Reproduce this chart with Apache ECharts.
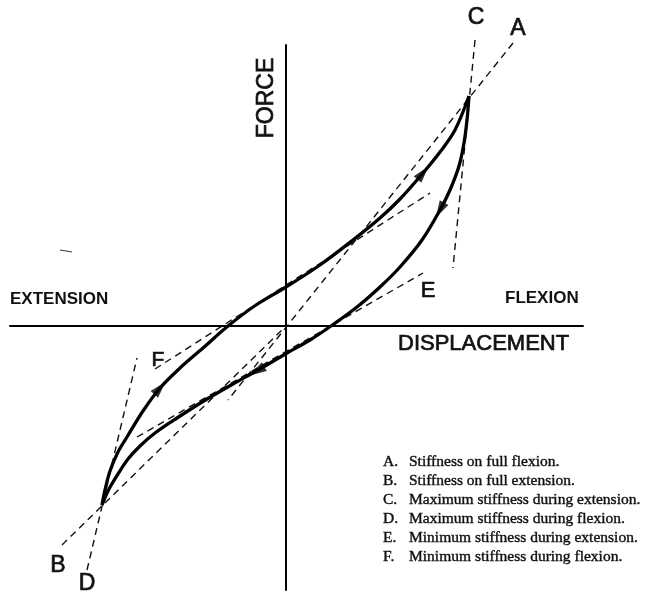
<!DOCTYPE html>
<html>
<head>
<meta charset="utf-8">
<script src="https://cdn.jsdelivr.net/npm/echarts@6/dist/echarts.min.js"></script>
<style>
html,body{margin:0;padding:0;background:#fff;}
#chart{width:647px;height:594px;}
</style>
</head>
<body>
<div id="chart"></div>
<script>
// Displacement (x) / force (y), arbitrary units
const flexionPath = [
  [-18.4,-17.9],[-18.1,-16.4],[-17.6,-14.5],[-16.8,-12.6],[-15.9,-11.1],[-14.3,-8.5],
  [-12.6,-6.2],[-10.6,-4.2],[-8.3,-2.2],[-5.8,0],[-3.0,2.1],[0,3.9],[3.4,6.1],
  [6.7,8.6],[9.4,10.8],[11.4,12.7],[13.7,15.3],[15.4,17.4],[16.9,19.6],[18.3,23.0]
];
const extensionPath = [
  [18.3,23.0],[18.1,20.6],[17.8,18.3],[17.3,16.0],[16.4,13.6],[15.4,11.6],[13.6,8.6],
  [11.4,5.9],[9.4,3.9],[7.1,1.9],[4.5,0],[2.4,-1.4],[0.1,-2.7],[-2.6,-4.3],[-5.3,-5.8],
  [-7.9,-7.3],[-10.9,-9.2],[-13.1,-10.7],[-14.6,-12.0],[-15.8,-13.3],[-16.8,-14.8],
  [-17.7,-16.3],[-18.4,-17.9]
];
const tangentA = [[22.7,28.3],[-5.8,-7.4]];
const tangentB = [[-22.4,-21.9],[0,0]];
const tangentC = [[18.9,28.6],[16.7,5.8]];
const tangentD = [[-19.9,-24.4],[-14.9,-3.2]];
const tangentE = [[-14.9,-11.1],[13.7,5.3]];
const tangentF = [[-13.1,-4.3],[14.4,13.3]];
// arrow heads: [x, y, direction in degrees]
const flexionArrows = [[-12.6,-6.2,48],[13.7,15.3,50]];
const extensionArrows = [[15.4,11.6,241],[-2.9,-4.5,211]];
const legendLetters = ['A.','B.','C.','D.','E.','F.'];
const legendTexts = [
  'Stiffness on full flexion.',
  'Stiffness on full extension.',
  'Maximum stiffness during extension.',
  'Maximum stiffness during flexion.',
  'Minimum stiffness during extension.',
  'Minimum stiffness during flexion.'
];

const chart = echarts.init(document.getElementById('chart'), null, {renderer:'canvas'});
const sans = 'Liberation Sans, Arial, sans-serif';
const serif = 'Liberation Serif, Times New Roman, serif';

function dashed(name, pts){
  return {type:'line', name:name, data:pts, showSymbol:false, clip:false, silent:true,
    lineStyle:{color:'#111', width:1.4, type:[7,5]}, z:2};
}
function curve(pts){
  return {type:'line', data:pts, showSymbol:false, clip:false, smooth:0.35, silent:true,
    lineStyle:{color:'#000', width:3.3}, z:3};
}
function arrows(list){
  return {type:'scatter', clip:false, silent:true, z:4,
    data:list.map(a=>({value:[a[0],a[1]], symbolRotate:a[2]-90})),
    symbol:'triangle', symbolSize:[10,17], itemStyle:{color:'#000'}};
}

const graphics = [];
const heavy = {stroke:'#111', lineWidth:0.7};
function txt(t, x, y, size){
  graphics.push({type:'text', x:x, y:y, style:Object.assign({text:t, fill:'#111',
    font: size+'px '+sans, textAlign:'center', textVerticalAlign:'middle'}, heavy)});
}
txt('C', 476, 18, 23);
txt('A', 518, 29, 23);
txt('E', 428, 291, 22);
txt('F', 158, 360, 21);
txt('B', 58, 566, 23);
txt('D', 87, 584, 23);
graphics.push({type:'text', x:267, y:98, rotation:Math.PI/2,
  style:Object.assign({text:'FORCE', fill:'#111', font:'23px '+sans, textAlign:'center', textVerticalAlign:'middle'}, heavy)});
graphics.push({type:'text', x:10, y:299,
  style:{text:'EXTENSION', fill:'#111', font:'bold 17px '+sans, textAlign:'left', textVerticalAlign:'middle'}});
graphics.push({type:'text', x:505, y:298,
  style:{text:'FLEXION', fill:'#111', font:'bold 17px '+sans, textAlign:'left', textVerticalAlign:'middle'}});
graphics.push({type:'text', x:398, y:344,
  style:Object.assign({text:'DISPLACEMENT', fill:'#111', font:'22px '+sans, textAlign:'left', textVerticalAlign:'middle'}, heavy)});
legendTexts.forEach((t,i)=>{
  const y = 462 + i*19;
  graphics.push({type:'text', x:383, y:y,
    style:{text:legendLetters[i], fill:'#111', font:'15.5px '+serif, textAlign:'left', textVerticalAlign:'middle', stroke:'#111', lineWidth:0.4}});
  graphics.push({type:'text', x:409, y:y,
    style:{text:t, fill:'#111', font:'15.5px '+serif, textAlign:'left', textVerticalAlign:'middle', stroke:'#111', lineWidth:0.4}});
});
graphics.push({type:'line', shape:{x1:60, y1:250, x2:72, y2:252}, style:{stroke:'#333', lineWidth:1}});

chart.setOption({
  animation:false,
  backgroundColor:'#fff',
  grid:{left:10, right:64, top:45, bottom:4},
  xAxis:{type:'value', min:-27.6, max:29.7,
    axisLine:{onZero:true, lineStyle:{color:'#000', width:2}},
    axisTick:{show:false}, axisLabel:{show:false}, splitLine:{show:false}},
  yAxis:{type:'value', min:-26.4, max:28.1,
    axisLine:{onZero:true, lineStyle:{color:'#000', width:2}},
    axisTick:{show:false}, axisLabel:{show:false}, splitLine:{show:false}},
  series:[
    dashed('A', tangentA), dashed('B', tangentB), dashed('C', tangentC),
    dashed('D', tangentD), dashed('E', tangentE), dashed('F', tangentF),
    curve(flexionPath), curve(extensionPath),
    arrows(flexionArrows), arrows(extensionArrows)
  ],
  graphic:graphics
});
</script>
</body>
</html>
